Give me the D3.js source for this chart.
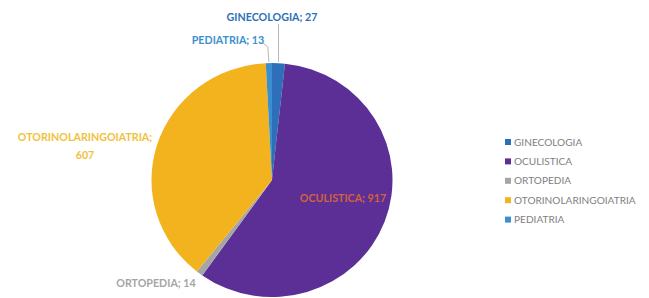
<!DOCTYPE html>
<html>
<head>
<meta charset="utf-8">
<script src="https://cdn.jsdelivr.net/npm/d3@7"></script>
<style>
  body { margin: 0; background: #fff; }
  svg text { font-family: Lato, "Open Sans", sans-serif; }
</style>
</head>
<body>
<script>
// data
const categories = ["GINECOLOGIA", "OCULISTICA", "ORTOPEDIA", "OTORINOLARINGOIATRIA", "PEDIATRIA"];
const values = [27, 917, 14, 607, 13];
const sliceColors = ["#2e6fba", "#5c2f96", "#a5a5a5", "#f2b31f", "#3b8fd0"];
const labelColors = ["#2e6fba", "#d2623c", "#a5a5a5", "#f0c23c", "#3b8fd0"];

const width = 649, height = 298;
const cx = 272, cy = 180, r = 117;

const svg = d3.select("body").append("svg")
    .attr("width", width)
    .attr("height", height);

const data = categories.map((c, i) => ({ name: c, value: values[i], i: i }));

const pie = d3.pie().sort(null).value(d => d.value);
const arcs = pie(data);
const arc = d3.arc().innerRadius(0).outerRadius(r);
const edge = d3.arc().innerRadius(r + 1).outerRadius(r + 1);

const g = svg.append("g")
    .attr("transform", `translate(${cx}, ${cy}) scale(1.03, 1)`);

g.selectAll("path.slice")
    .data(arcs)
    .enter()
    .append("path")
    .attr("class", "slice")
    .attr("d", arc)
    .attr("fill", d => sliceColors[d.data.i]);

// data labels, placed like the excel ones
const labels = [
    { lines: ["GINECOLOGIA; 27"], x: 272, y: 21 },
    { lines: ["OCULISTICA; 917"], x: 343, y: 202 },
    { lines: ["ORTOPEDIA; 14"], x: 156, y: 287 },
    { lines: ["OTORINOLARINGOIATRIA;", "607"], x: 85, y: 141 },
    { lines: ["PEDIATRIA; 13"], x: 228, y: 44 }
];

labels.forEach((l, i) => {
    let t = svg.append("text")
        .attr("x", l.x)
        .attr("y", l.y)
        .attr("text-anchor", "middle")
        .attr("font-size", 10.7)
        .attr("font-weight", "bold")
        .attr("fill", labelColors[i]);
    l.lines.forEach((s, k) => {
        t.append("tspan")
            .attr("x", l.x)
            .attr("dy", k === 0 ? 0 : 18)
            .text(s);
    });
});

// leader lines for the two thin slices at the top
const p0 = edge.centroid(arcs[0]);
svg.append("path")
    .attr("d", d3.line()([[cx + p0[0] * 1.03, 24], [cx + p0[0] * 1.03, cy + p0[1]]]))
    .attr("stroke", "#a6a6a6")
    .attr("fill", "none")
    .attr("stroke-width", 0.8);

const p4 = edge.centroid(arcs[4]);
svg.append("path")
    .attr("d", d3.line()([[263, 43], [cx + p4[0] * 1.03 - 1, 47], [cx + p4[0] * 1.03, cy + p4[1]]]))
    .attr("stroke", "#a6a6a6")
    .attr("fill", "none")
    .attr("stroke-width", 0.8);

// legend
const legend = svg.append("g")
    .attr("transform", "translate(505, 142)");

const yLeg = d3.scaleBand()
    .domain(categories)
    .range([0, 97]);

const item = legend.selectAll("g.item")
    .data(categories)
    .enter()
    .append("g")
    .attr("class", "item")
    .attr("transform", d => `translate(0, ${yLeg(d)})`);

item.append("rect")
    .attr("x", 0)
    .attr("y", -3)
    .attr("width", 6)
    .attr("height", 6)
    .attr("fill", (d, i) => sliceColors[i]);

item.append("text")
    .attr("x", 9)
    .attr("y", 3.5)
    .attr("font-size", 10.1)
    .attr("fill", "#7f7f7f")
    .text(d => d);
</script>
</body>
</html>
